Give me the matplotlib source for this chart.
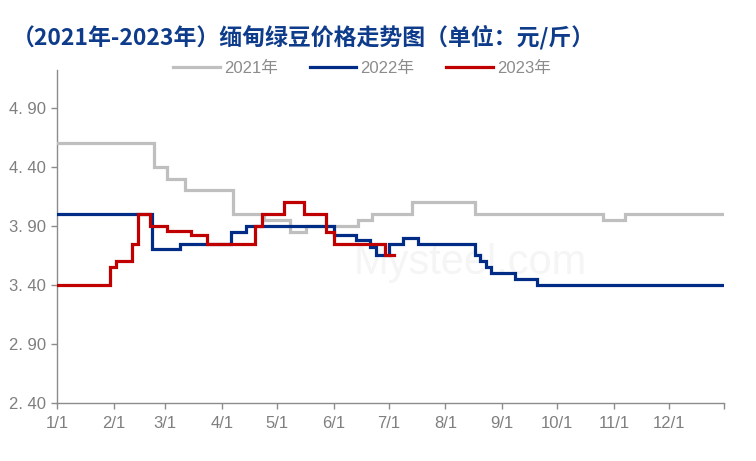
import matplotlib
matplotlib.use("Agg")
import matplotlib.pyplot as plt
import pandas as pd

# ---- data (change dates MM-DD and price from that date on) ----
dates_2021 = ["01-01", "02-23", "03-02", "03-12", "04-07", "04-24", "05-08", "05-17",
              "06-14", "06-22", "07-14", "08-17", "10-26", "11-07", "12-31"]
vals_2021 = [4.60, 4.40, 4.30, 4.20, 4.00, 3.95, 3.85, 3.90,
             3.95, 4.00, 4.10, 4.00, 3.95, 4.00, 4.00]

dates_2022 = ["01-01", "02-22", "03-09", "04-06", "04-14", "06-01", "06-13", "06-21",
              "06-24", "07-01", "07-09", "07-17", "08-17", "08-20", "08-23", "08-26",
              "09-08", "09-20", "12-31"]
vals_2022 = [4.00, 3.70, 3.75, 3.85, 3.90, 3.82, 3.78, 3.72,
             3.65, 3.75, 3.80, 3.75, 3.65, 3.60, 3.55, 3.50,
             3.45, 3.40, 3.40]

dates_2023 = ["01-01", "01-30", "02-02", "02-11", "02-14", "02-21", "03-02", "03-15",
              "03-24", "04-19", "04-23", "05-05", "05-16", "05-28", "06-01", "06-29",
              "07-04"]
vals_2023 = [3.40, 3.55, 3.60, 3.75, 4.00, 3.90, 3.86, 3.82,
             3.75, 3.90, 4.00, 4.10, 4.00, 3.85, 3.75, 3.65,
             3.65]

series_labels = ["2021年", "2022年", "2023年"]
y_ticks = [2.40, 2.90, 3.40, 3.90, 4.40, 4.90]
y_tick_labels = ["2. 40", "2. 90", "3. 40", "3. 90", "4. 40", "4. 90"]
x_tick_labels = ["1/1", "2/1", "3/1", "4/1", "5/1", "6/1", "7/1", "8/1", "9/1",
                 "10/1", "11/1", "12/1"]

title = "（2021年-2023年）缅甸绿豆价格走势图（单位：元/斤）"

colors = ["#BFBFBF", "#002C85", "#C00000"]

# ---- figure ----
plt.rcParams["font.family"] = ["Liberation Sans Narrow", "Liberation Sans",
                               "Noto Sans CJK SC", "DejaVu Sans"]

fig = plt.figure(figsize=(7.56, 4.61), dpi=100)
ax = fig.add_axes([57 / 756, 1 - 403 / 461, (724 - 57) / 756, (403 - 70) / 461])


def to_dt(md):
    return pd.to_datetime(["2021-" + d for d in md])


# watermark
ax.text(0.62, 0.42, "Mysteel.com", transform=ax.transAxes, fontsize=30,
        color="#F5F5F5", ha="center", va="center",
        family=["Liberation Sans", "DejaVu Sans"], zorder=0)

lines = []
for d, v, c, lab in zip([dates_2021, dates_2022, dates_2023],
                        [vals_2021, vals_2022, vals_2023], colors, series_labels):
    ln, = ax.plot(to_dt(d), v, drawstyle="steps-post", color=c, lw=2.3,
                  label=lab, solid_joinstyle="miter", zorder=3)
    lines.append(ln)

ax.set_ylim(2.40, 5.22)
ax.set_yticks(y_ticks)
ax.set_yticklabels(y_tick_labels)

start = pd.Timestamp("2021-01-01")
end = pd.Timestamp("2021-12-31")
ax.set_xlim(start, end)
month_starts = pd.date_range("2021-01-01", periods=12, freq="MS")
ticks = list(month_starts) + [end]
ax.set_xticks(ticks)
ax.set_xticklabels(x_tick_labels + [""])

for s in ["top", "right"]:
    ax.spines[s].set_visible(False)
for s in ["left", "bottom"]:
    ax.spines[s].set_color("#8C8C8C")
    ax.spines[s].set_linewidth(1.0)

ax.tick_params(axis="both", colors="#8C8C8C", labelcolor="#7F7F7F",
               labelsize=12, length=4, width=1.0, direction="out")
ax.tick_params(axis="x", pad=5)
ax.tick_params(axis="y", pad=4)

fig.text(12 / 756, 1 - 37 / 461, title, fontsize=16.5, fontweight="bold",
         color="#0E3C8A", ha="left", va="center",
         family=["Noto Sans CJK SC", "DejaVu Sans"])

leg = fig.legend(handles=lines, loc="center", bbox_to_anchor=(362 / 756, 1 - 68 / 461),
                 ncol=3, frameon=False, fontsize=12, handlelength=2.8,
                 handletextpad=0.25, columnspacing=1.9, borderaxespad=0)
for t in leg.get_texts():
    t.set_color("#8C8C8C")

fig.savefig("out.png", dpi=100)
